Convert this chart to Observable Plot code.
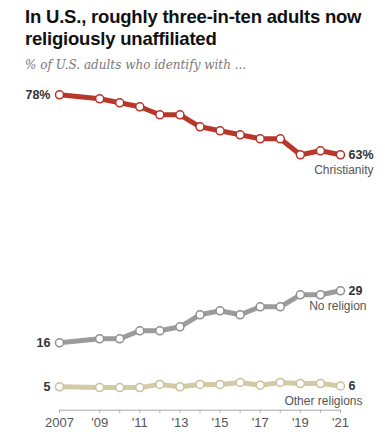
<!DOCTYPE html>
<html>
<head>
<meta charset="utf-8">
<script src="https://cdn.jsdelivr.net/npm/d3@7"></script>
<script src="https://cdn.jsdelivr.net/npm/@observablehq/plot@0.6"></script>
<style>
  html, body { margin: 0; padding: 0; background: #fff; }
  body { width: 385px; height: 432px; overflow: hidden; position: relative; font-family: "Liberation Sans", Arial, sans-serif; }
  #title { position: absolute; left: 25px; top: 6px; width: 360px; font-family: "Liberation Sans", Arial, sans-serif; font-weight: bold; font-size: 18.5px; line-height: 22px; color: #111; letter-spacing: -0.2px; }
  #sub { position: absolute; left: 25px; top: 58px; font-family: "DejaVu Serif", "Liberation Serif", serif; font-style: italic; font-size: 12px; color: #777; }
  #chart { position: absolute; left: 0; top: 80px; }
</style>
</head>
<body>
<div id="title">In U.S., roughly three-in-ten adults now<br>religiously unaffiliated</div>
<div id="sub">% of U.S. adults who identify with ...</div>
<div id="chart"></div>
<script>
const years = [2007, 2009, 2010, 2011, 2012, 2013, 2014, 2015, 2016, 2017, 2018, 2019, 2020, 2021];
const tickLabelYears = [2007, 2009, 2011, 2013, 2015, 2017, 2019, 2021];
const christianity = [78, 77, 76, 75, 73, 73, 70, 69, 68, 67, 67, 63, 64, 63];
const noReligion = [16, 17, 17, 19, 19, 20, 23, 24, 23, 25, 25, 28, 28, 29];
const otherReligions = [5, 4.8, 4.8, 4.8, 5.6, 5, 5.6, 5.6, 6.1, 5.4, 6.1, 5.8, 5.8, 5.2];
const seriesNames = ["Christianity", "No religion", "Other religions"];
const seriesColors = ["#b8372b", "#9b9b9b", "#d3cba6"];
const dotStrokes = ["#b23328", "#8f8f8f", "#c9c09a"];
const startLabels = ["78%", "16", "5"];
const endLabels = ["63%", "29", "6"];

const seriesValues = [christianity, noReligion, otherReligions];
const rows = [];
seriesValues.forEach((vals, i) => {
  vals.forEach((v, j) => rows.push({year: years[j], value: v, series: seriesNames[i]}));
});
const firstRows = seriesValues.map((vals, i) => ({year: years[0], value: vals[0], series: seriesNames[i], label: startLabels[i]}));
const lastRows = seriesValues.map((vals, i) => ({year: years[years.length - 1], value: vals[vals.length - 1], series: seriesNames[i], label: endLabels[i]}));
const nameDx = [33, 26, 22];

const fmt = d => d === 2007 ? "2007" : "'" + String(d).slice(2);

const chart = Plot.plot({
  width: 385,
  height: 352,
  marginLeft: 59,
  marginRight: 45,
  marginTop: 14,
  marginBottom: 22.3,
  x: {domain: [2007, 2021], range: [59, 340]},
  y: {domain: [0, 78], range: [326.3, 14.3], axis: null},
  color: {domain: seriesNames, range: seriesColors},
  style: {fontFamily: "'Liberation Sans', Arial, sans-serif", background: "white"},
  marks: [
    Plot.frame({anchor: "bottom", stroke: "#aaa"}),
    Plot.axisX({ticks: years, tickFormat: () => "", tickSize: 3, stroke: "#aaa", label: null}),
    Plot.axisX({ticks: tickLabelYears, tickFormat: fmt, tickSize: 0, tickPadding: 8, fontSize: 13, color: "#555", label: null}),
    Plot.line(rows, {x: "year", y: "value", z: "series", stroke: "series", strokeWidth: 5}),
    Plot.dot(rows, {x: "year", y: "value", r: 4, fill: "white", stroke: d => dotStrokes[seriesNames.indexOf(d.series)], strokeWidth: 1.5}),
    Plot.text(firstRows, {x: "year", y: "value", text: "label", textAnchor: "end", dx: -9, fontWeight: "bold", fontSize: 12.5, fill: "#333"}),
    Plot.text(lastRows, {x: "year", y: "value", text: "label", textAnchor: "start", dx: 8, fontWeight: "bold", fontSize: 12.5, fill: "#333"}),
    ...lastRows.map((r, i) => Plot.text([r], {x: "year", y: "value", text: "series", textAnchor: "end", dx: nameDx[i], dy: 15, fontSize: 12, fill: "#555"}))
  ]
});
document.getElementById("chart").appendChild(chart);
</script>
</body>
</html>
